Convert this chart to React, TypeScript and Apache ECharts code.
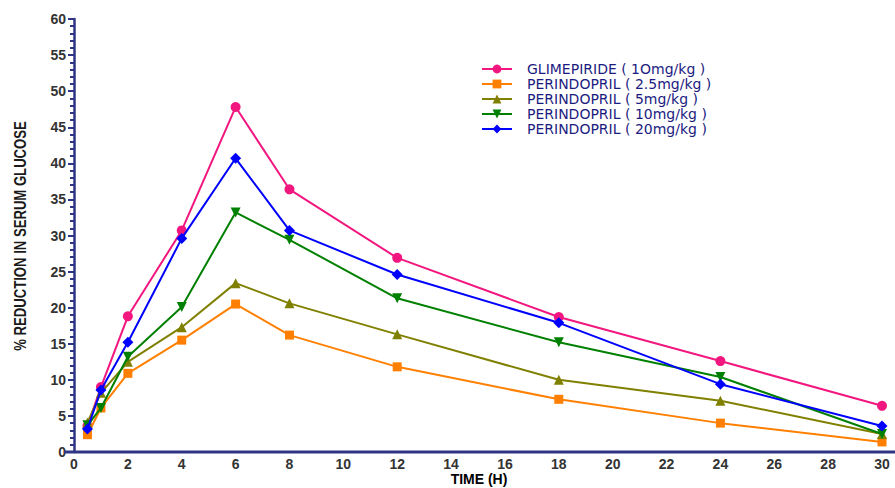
import React, { useEffect, useRef } from "react";
import * as echarts from "echarts";

const times = [0.5, 1, 2, 4, 6, 8, 12, 18, 24, 30];
const seriesNames = [
  "GLIMEPIRIDE ( 1Omg/kg )",
  "PERINDOPRIL ( 2.5mg/kg )",
  "PERINDOPRIL ( 5mg/kg )",
  "PERINDOPRIL ( 10mg/kg )",
  "PERINDOPRIL ( 20mg/kg )",
];
const glimepiride10 = [3.6, 9.0, 18.8, 30.7, 47.8, 36.4, 26.9, 18.7, 12.6, 6.4];
const perindopril25 = [2.4, 6.1, 10.9, 15.5, 20.5, 16.2, 11.8, 7.3, 4.0, 1.4];
const perindopril5 = [4.1, 8.2, 12.5, 17.3, 23.4, 20.6, 16.3, 10.0, 7.1, 2.5];
const perindopril10 = [3.7, 6.1, 13.2, 20.1, 33.2, 29.4, 21.3, 15.2, 10.4, 2.5];
const perindopril20 = [3.2, 8.6, 15.2, 29.6, 40.7, 30.7, 24.6, 17.9, 9.4, 3.6];
const yTitle = "% REDUCTION IN SERUM GLUCOSE";
const xTitle = "TIME (H)";

const colors = ["#f2177f", "#ff8000", "#808000", "#008000", "#0000ff"];
const symbols = ["circle", "rect", "triangle", "triangle", "diamond"];
const symbolRotates = [0, 0, 0, 180, 0];
const symbolSizes = [10, 9, 10, 10, 11];

export default function App() {
  const ref = useRef<HTMLDivElement>(null);
  useEffect(() => {
    document.body.style.margin = "0";
    if (!ref.current) return;
    const chart = echarts.init(ref.current, undefined, { renderer: "svg" });
    const allData = [glimepiride10, perindopril25, perindopril5, perindopril10, perindopril20];
    const axisColor = "#2e3585";
    chart.setOption({
      animation: false,
      backgroundColor: "#ffffff",
      grid: { left: 74, right: 13, top: 19, bottom: 36, containLabel: false, outerBoundsMode: "none" },
      legend: {
        orient: "vertical",
        left: 476,
        top: 57,
        itemGap: 1,
        itemWidth: 30,
        itemHeight: 11,
        textStyle: {
          color: "#1c1c80",
          fontSize: 14,
          fontFamily: "DejaVu Sans, sans-serif",
          padding: [0, 0, 0, 10],
        },
        data: seriesNames,
      },
      xAxis: {
        type: "value",
        min: 0,
        max: 30,
        interval: 2,
        axisLine: { show: false },
        axisTick: { show: false },
        splitLine: { show: false },
        axisLabel: {
          color: "#333333",
          fontWeight: "bold",
          fontSize: 14,
          margin: 5,
          fontFamily: "Arial, Liberation Sans, sans-serif",
        },
      },
      yAxis: {
        type: "value",
        min: 0,
        max: 60,
        interval: 5,
        axisLine: { show: true, lineStyle: { color: axisColor, width: 2.5 } },
        axisTick: { show: true, length: 6, lineStyle: { color: axisColor, width: 2 } },
        minorTick: { show: true, splitNumber: 5, length: 4, lineStyle: { color: axisColor, width: 2 } },
        splitLine: { show: false },
        axisLabel: {
          color: "#333333",
          fontWeight: "bold",
          fontSize: 14,
          margin: 8,
          fontFamily: "Arial, Liberation Sans, sans-serif",
        },
      },
      graphic: [
        {
          type: "line",
          shape: { x1: 64, y1: 452, x2: 895, y2: 452 },
          style: { stroke: axisColor, lineWidth: 3 },
          z: 10,
        },
        {
          type: "text",
          x: 21,
          y: 236,
          rotation: Math.PI / 2,
          scaleX: 0.82,
          style: {
            text: yTitle,
            fill: "#1a1a1a",
            font: "bold 16px Arial, Liberation Sans, sans-serif",
            align: "center",
            verticalAlign: "middle",
          },
          z: 10,
        },
        {
          type: "text",
          x: 479,
          y: 479,
          style: {
            text: xTitle,
            fill: "#000000",
            font: "bold 14px Arial, Liberation Sans, sans-serif",
            align: "center",
            verticalAlign: "middle",
          },
          z: 10,
        },
      ],
      series: allData.map((vals, i) => ({
        name: seriesNames[i],
        type: "line",
        data: times.map((t, j) => [t, vals[j]]),
        symbol: symbols[i],
        symbolRotate: symbolRotates[i],
        symbolSize: symbolSizes[i],
        showAllSymbol: true,
        color: colors[i],
        lineStyle: { color: colors[i], width: 2 },
        itemStyle: { color: colors[i] },
        z: 2 + i,
      })),
    });
    return () => chart.dispose();
  }, []);
  return <div ref={ref} style={{ width: 895, height: 488 }} />;
}
